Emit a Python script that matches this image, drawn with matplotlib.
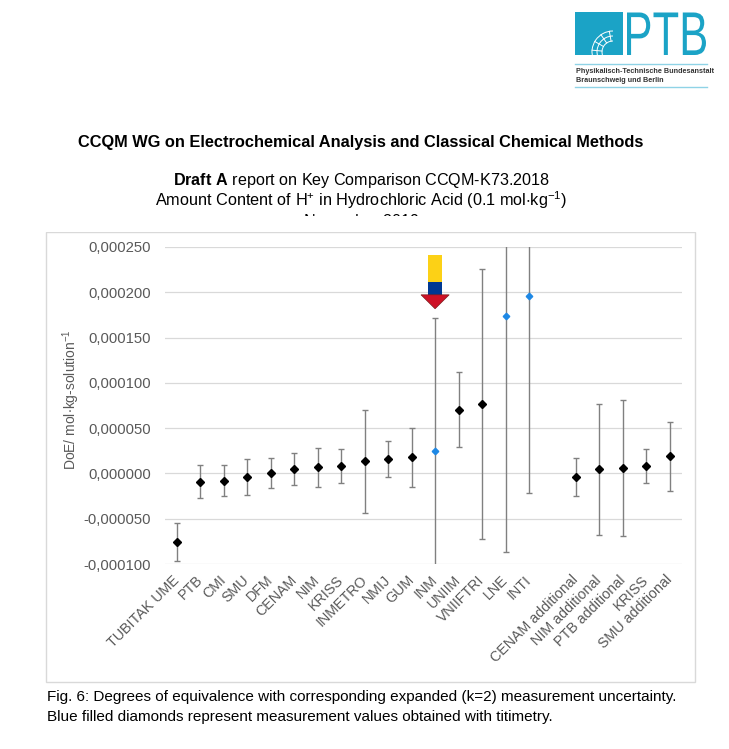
import numpy as np
import matplotlib
matplotlib.use("Agg")
import matplotlib.pyplot as plt
from matplotlib.patches import Rectangle, Polygon, PathPatch, Arc
from matplotlib.textpath import TextPath
from matplotlib.font_manager import FontProperties
from matplotlib.transforms import Affine2D

plt.rcParams['font.family'] = ['Liberation Sans', 'DejaVu Sans']
plt.rcParams['mathtext.fontset'] = 'custom'
plt.rcParams['mathtext.rm'] = 'Liberation Sans'
plt.rcParams['mathtext.bf'] = 'Liberation Sans:bold'
plt.rcParams['mathtext.default'] = 'regular'

# participants (empty slot separates the additional results)
labels = ['TUBITAK UME', 'PTB', 'CMI', 'SMU', 'DFM', 'CENAM', 'NIM', 'KRISS',
          'INMETRO', 'NMIJ', 'GUM', 'INM', 'UNIIM', 'VNIIFTRI', 'LNE', 'INTI', '',
          'CENAM additional', 'NIM additional', 'PTB additional', 'KRISS',
          'SMU additional']
# degrees of equivalence and expanded uncertainty, in 1e-5 mol/kg
doe = [-7.6, -0.9, -0.8, -0.4, 0.0, 0.48, 0.66, 0.85,
       1.32, 1.59, 1.77, 2.5, 7.03, 7.62, 17.33, 19.54, np.nan,
       -0.44, 0.44, 0.6, 0.85, 1.88]
unc = [2.1, 1.8, 1.7, 2.0, 1.65, 1.73, 2.14, 1.86,
       5.73, 1.99, 3.25, 14.65, 4.14, 14.9, 26.05, 21.7, np.nan,
       2.1, 7.23, 7.52, 1.86, 3.79]
# titrimetry results (blue diamonds)
titrimetry = ['INM', 'LNE', 'INTI']

yticks = [-0.0001, -0.00005, 0.0, 0.00005, 0.0001, 0.00015, 0.0002, 0.00025]

W, H = 729, 749
fig = plt.figure(figsize=(W / 100, H / 100), dpi=100)


def fx(x):
    return x / W


def fy(y):
    return 1 - y / H


# chart frame
fig.patches.append(Rectangle((fx(46), fy(682)), fx(695) - fx(46), fy(232) - fy(682),
                             transform=fig.transFigure, facecolor='white',
                             edgecolor='#d9d9d9', lw=1, zorder=1))

# headings
fig.text(fx(361), fy(143), 'CCQM WG on Electrochemical Analysis and Classical Chemical Methods',
         ha='center', va='center', fontsize=11.8, fontweight='bold')
fig.text(fx(361), fy(181), r'$\mathbf{Draft\ A}$ report on Key Comparison CCQM-K73.2018',
         ha='center', va='center', fontsize=11.6)
fig.text(fx(361), fy(200.5), 'Amount Content of H$^{+}$ in Hydrochloric Acid (0.1 mol$\\cdot$kg$^{-1}$)',
         ha='center', va='center', fontsize=11.7)
# third heading line is mostly hidden behind the chart frame in the source
fig.text(fx(361), fy(222), 'November 2019', ha='center', va='center', fontsize=11.6)
fig.patches.append(Rectangle((0, fy(232)), 1, fy(216) - fy(232), transform=fig.transFigure,
                             facecolor='white', edgecolor='none', zorder=4))

# caption
fig.text(fx(47), fy(697), 'Fig. 6: Degrees of equivalence with corresponding expanded (k=2) '
         'measurement uncertainty.', ha='left', va='center', fontsize=11)
fig.text(fx(47), fy(717), 'Blue filled diamonds represent measurement values obtained with titimetry.',
         ha='left', va='center', fontsize=11)

# PTB logo
ptb_blue = '#1ba3c6'
fig.patches.append(Rectangle((fx(575), fy(55)), fx(623) - fx(575), fy(12.5) - fy(55),
                             transform=fig.transFigure, facecolor=ptb_blue, edgecolor='none'))
for r in [11, 16, 21]:
    fig.patches.append(Arc((fx(613), fy(52)), 2 * r / W, 2 * r / H, theta1=90, theta2=200,
                           transform=fig.transFigure, color='white', lw=0.7))
for a in np.deg2rad([100, 125, 150, 175]):
    fig.lines.append(plt.Line2D([fx(613 + 11 * np.cos(a)), fx(613 + 21 * np.cos(a))],
                                [fy(52 - 11 * np.sin(a)), fy(52 - 21 * np.sin(a))],
                                transform=fig.transFigure, color='white', lw=0.7))
tp = TextPath((0, 0), 'PTB', size=1, prop=FontProperties(family='Liberation Sans'))
bb = tp.get_extents()
tr = (Affine2D().translate(-bb.x0, -bb.y0)
      .scale((fx(706) - fx(627)) / bb.width, (fy(12.5) - fy(55)) / bb.height)
      .translate(fx(627), fy(55)) + fig.transFigure)
fig.patches.append(PathPatch(tp, transform=tr, facecolor=ptb_blue, edgecolor='none'))
for ly in [64, 87]:
    fig.lines.append(plt.Line2D([fx(575), fx(707)], [fy(ly), fy(ly)], transform=fig.transFigure,
                                color='#8fd3e6', lw=1))
fig.text(fx(576), fy(71.5), 'Physikalisch-Technische Bundesanstalt', fontsize=5.2,
         fontweight='bold', color='#333333', va='center')
fig.text(fx(576), fy(80), 'Braunschweig und Berlin', fontsize=5.2,
         fontweight='bold', color='#333333', va='center')

# plot area
ax = fig.add_axes([fx(165), fy(564), fx(681.7) - fx(165), fy(247) - fy(564)])
ax.set_zorder(2)
ax.patch.set_alpha(0)
x = np.arange(1, len(labels) + 1)
vals = np.array(doe) * 1e-5
errs = np.array(unc) * 1e-5
blue = np.array([lab in titrimetry for lab in labels])

ax.errorbar(x, vals, yerr=errs, fmt='none', ecolor='#808080', elinewidth=1.0,
            capsize=2.3, capthick=1.0, zorder=3)
ax.plot(x[~blue], vals[~blue], 'D', color='black', ms=4, zorder=4, ls='none')
ax.plot(x[blue], vals[blue], 'D', color='#1e88e5', ms=3.3, zorder=4, ls='none')

# flag arrow over INM
arrow_x = labels.index('INM') + 1
arrow_w, head_w = 0.6, 1.2
yellow_top, yellow_bot, blue_bot, tip = 24.14e-5, 21.19e-5, 19.72e-5, 18.18e-5
ax.add_patch(Rectangle((arrow_x - arrow_w / 2, yellow_bot), arrow_w, yellow_top - yellow_bot,
                       facecolor='#fcd116', edgecolor='none', zorder=5))
ax.add_patch(Rectangle((arrow_x - arrow_w / 2, blue_bot), arrow_w, yellow_bot - blue_bot,
                       facecolor='#003893', edgecolor='none', zorder=5))
ax.add_patch(Polygon([[arrow_x - head_w / 2, blue_bot], [arrow_x + head_w / 2, blue_bot],
                      [arrow_x, tip]], closed=True, facecolor='#ce1126',
                     edgecolor='#7a2020', lw=0.5, zorder=5))

ax.set_xlim(0.5, len(labels) + 0.5)
ax.set_ylim(-0.0001, 0.00025)
ax.set_yticks(yticks)
ax.set_yticklabels([f'{v:.6f}'.replace('.', ',') for v in yticks])
ax.set_xticks(x)
ax.set_xticklabels(labels, rotation=45, ha='right', va='center', rotation_mode='anchor')
ax.tick_params(axis='both', length=0, labelsize=10.7, labelcolor='#595959')
ax.tick_params(axis='y', pad=10)
ax.tick_params(axis='x', labelsize=10.3, pad=10)
ax.grid(axis='y', color='#d9d9d9', lw=0.9, zorder=0)
ax.set_axisbelow(True)
for s in ax.spines.values():
    s.set_visible(False)
ax.set_ylabel(r'DoE/ mol$\cdot$kg-solution$^{-1}$', fontsize=10, color='#595959')
ax.yaxis.set_label_coords(-0.16, 0.52)

fig.savefig('out.png', dpi=100, facecolor='white')
